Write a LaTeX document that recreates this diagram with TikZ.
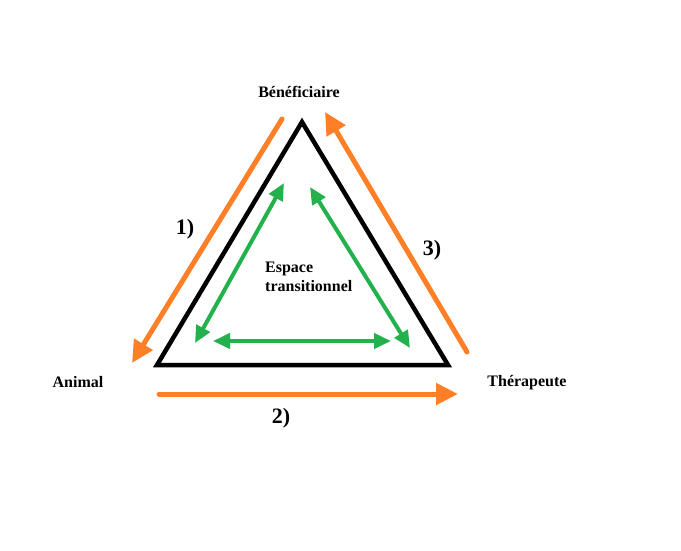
\documentclass[tikz,border=0pt]{standalone}
\usepackage{fontspec}
\setmainfont{Liberation Serif}
\usetikzlibrary{arrows.meta}
\definecolor{paintorange}{RGB}{255,127,39}
\definecolor{paintgreen}{RGB}{34,177,76}
\begin{document}
\begin{tikzpicture}[x=1pt,y=-1pt,
  lbl/.style={inner sep=0pt,font=\fontsize{16}{19}\selectfont\bfseries},
  num/.style={inner sep=0pt,font=\fontsize{22}{25}\selectfont\bfseries},
  tri/.style={line width=4.5pt,line join=miter,draw=black},
  oarrow/.style={line width=5pt,draw=paintorange,line cap=round,-{Triangle[length=22pt,width=21pt]}},
  garrow/.style={line width=4pt,draw=paintgreen,{Triangle[length=17pt,width=15pt]}-{Triangle[length=17pt,width=15pt]}}]
\useasboundingbox (0,0) rectangle (681,550);
% triangle vertices
\coordinate (top) at (302,122);
\coordinate (bl) at (157,365);
\coordinate (br) at (448,365);
\draw[tri] (top) -- (bl) -- (br) -- cycle;
% orange arrows
\coordinate (o1s) at (282,119);
\coordinate (o1e) at (132,363);
\coordinate (o2s) at (159,394);
\coordinate (o2e) at (458,394);
\coordinate (o3s) at (467,352);
\coordinate (o3e) at (325,112);
\draw[oarrow] (o1s) -- (o1e);
\draw[oarrow] (o2s) -- (o2e);
\draw[oarrow] (o3s) -- (o3e);
% green arrows
\coordinate (g1a) at (284,183);
\coordinate (g1b) at (195,343);
\coordinate (g2a) at (310,187);
\coordinate (g2b) at (410,348);
\coordinate (g3a) at (213,341);
\coordinate (g3b) at (391,341);
\draw[garrow] (g1a) -- (g1b);
\draw[garrow] (g2a) -- (g2b);
\draw[garrow] (g3a) -- (g3b);
% labels
\node[lbl] (benef) at (299,92) {Bénéficiaire};
\node[lbl] (animal) at (78,382) {Animal};
\node[lbl] (therap) at (527,383) {Thérapeute};
\node[lbl,align=left,anchor=west] (espace) at (265,277) {Espace\\transitionnel};
\node[num] (n1) at (185,229) {1)};
\node[num] (n2) at (281,418) {2)};
\node[num] (n3) at (432,250) {3)};
\end{tikzpicture}
\end{document}
